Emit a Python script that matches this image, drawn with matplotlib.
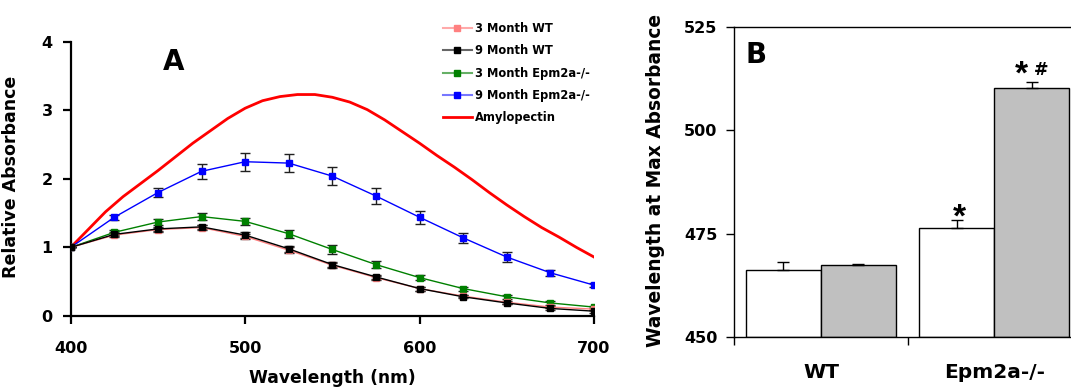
import numpy as np
import matplotlib
matplotlib.use("Agg")
import matplotlib.pyplot as plt
from matplotlib.lines import Line2D

plt.rcParams["font.family"] = ["DejaVu Sans"]
plt.rcParams["font.weight"] = "bold"

# panel A data
wavelength = [400, 425, 450, 475, 500, 525, 550, 575, 600, 625, 650, 675, 700]
wt_3m = [1.00, 1.18, 1.26, 1.29, 1.16, 0.96, 0.74, 0.56, 0.40, 0.29, 0.20, 0.13, 0.10]
wt_3m_err = [0.0, 0.03, 0.03, 0.03, 0.04, 0.04, 0.04, 0.03, 0.03, 0.02, 0.02, 0.02, 0.02]
wt_9m = [1.00, 1.19, 1.27, 1.30, 1.18, 0.98, 0.75, 0.57, 0.40, 0.28, 0.19, 0.11, 0.07]
wt_9m_err = [0.0, 0.03, 0.03, 0.03, 0.04, 0.04, 0.04, 0.03, 0.03, 0.02, 0.02, 0.02, 0.02]
ko_3m = [1.00, 1.22, 1.37, 1.45, 1.38, 1.20, 0.97, 0.75, 0.56, 0.40, 0.28, 0.19, 0.13]
ko_3m_err = [0.0, 0.04, 0.04, 0.05, 0.05, 0.06, 0.06, 0.05, 0.04, 0.03, 0.03, 0.03, 0.02]
ko_9m = [1.00, 1.44, 1.80, 2.11, 2.25, 2.23, 2.04, 1.75, 1.44, 1.14, 0.86, 0.63, 0.45]
ko_9m_err = [0.0, 0.04, 0.065, 0.11, 0.13, 0.13, 0.13, 0.11, 0.095, 0.075, 0.07, 0.045, 0.03]

amylo_wl = [400, 410, 420, 430, 440, 450, 460, 470, 480, 490, 500, 510, 520, 530, 540,
            550, 560, 570, 580, 590, 600, 610, 620, 630, 640, 650, 660, 670, 680, 690, 700]
amylo = [1.00, 1.26, 1.52, 1.74, 1.93, 2.12, 2.32, 2.52, 2.70, 2.88, 3.03, 3.14, 3.20, 3.23, 3.23,
         3.19, 3.12, 3.01, 2.86, 2.69, 2.52, 2.34, 2.17, 1.99, 1.80, 1.62, 1.45, 1.29, 1.15, 1.00, 0.86]

# panel B data
groups = ["WT", "Epm2a-/-"]
max_3m = [466.1, 476.3]
max_3m_err = [1.9, 1.9]
max_9m = [467.3, 510.3]
max_9m_err = [0.2, 1.4]

fig = plt.figure(figsize=(10.71, 3.89), dpi=100)

# ---- panel A ----
ax = fig.add_axes([0.066, 0.1877, 0.4886, 0.705])
ax.plot(amylo_wl, amylo, color="#ff0000", lw=2, zorder=2)
series = [
    (ko_9m, ko_9m_err, "#0000ff"),
    (ko_3m, ko_3m_err, "#008000"),
    (wt_3m, wt_3m_err, "#ff8080"),
    (wt_9m, wt_9m_err, "#000000"),
]
for vals, err, col in series:
    ax.errorbar(wavelength, vals, yerr=err, color=col, lw=1, marker="s", ms=5,
                mec=col, mfc=col, ecolor="#202020", elinewidth=1, capsize=3.5, zorder=3)

ax.set_xlim(400, 700)
ax.set_ylim(0, 4)
ax.set_xticks([400, 500, 600, 700])
ax.set_yticks([0, 1, 2, 3, 4])
for s in ["top", "right"]:
    ax.spines[s].set_visible(False)
for s in ["left", "bottom"]:
    ax.spines[s].set_linewidth(1.6)
ax.tick_params(axis="x", direction="out", length=6, width=1.6, pad=12, labelsize=11.5)
ax.tick_params(axis="y", direction="out", length=6, width=1.6, pad=7, labelsize=11.5)
ax.set_xlabel("Wavelength (nm)", fontsize=12.3, fontweight="bold")
ax.xaxis.set_label_coords(0.5, -0.195)
ax.set_ylabel("Relative Absorbance", fontsize=12.5, fontweight="bold")
ax.yaxis.set_label_coords(-0.097, 0.507)
ax.text(0.197, 0.897, "A", transform=ax.transAxes, fontsize=20, fontweight="bold",
        ha="center", va="baseline")

legend_labels = ["3 Month WT", "9 Month WT", "3 Month Epm2a-/-", "9 Month Epm2a-/-", "Amylopectin"]
legend_lines = ["#ffaaaa", "#666666", "#66b066", "#7777ff", "#ff0000"]
legend_marks = ["#ff8080", "#000000", "#008000", "#0000ff", None]
leg_handles = []
for lc, mc in zip(legend_lines, legend_marks):
    if mc is None:
        leg_handles.append(Line2D([], [], color=lc, lw=2))
    else:
        leg_handles.append(Line2D([], [], color=lc, lw=1.5, marker="s", ms=4.5, mfc=mc, mec=mc))
fig.legend(leg_handles, legend_labels, loc="upper left",
           bbox_to_anchor=(0.4136, 0.943), frameon=False, fontsize=8.3,
           handlelength=2.5, handletextpad=0.25, labelspacing=0.8, borderpad=0,
           borderaxespad=0)

# ---- panel B ----
bx = fig.add_axes([0.6856, 0.1345, 0.3237, 0.7953])
x = np.arange(len(groups))
w = 0.4325
bx.bar(x - w / 2, np.array(max_3m) - 450, w, bottom=450, color="white", edgecolor="black",
       lw=1, zorder=2)
bx.bar(x + w / 2, np.array(max_9m) - 450, w, bottom=450, color="#c0c0c0", edgecolor="black",
       lw=1, zorder=2)
bx.errorbar(x - w / 2, max_3m, yerr=[np.zeros(2), max_3m_err], fmt="none", ecolor="black",
            elinewidth=1, capsize=4, zorder=3)
bx.errorbar(x + w / 2, max_9m, yerr=[np.zeros(2), max_9m_err], fmt="none", ecolor="black",
            elinewidth=1, capsize=4, zorder=3)
bx.set_xlim(-0.5, 1.5)
bx.set_ylim(450, 525)
bx.set_yticks([450, 475, 500, 525])
bx.set_xticks(x)
bx.set_xticklabels(groups)
bx.set_xticks([-0.5, 0.5, 1.5], minor=True)
bx.tick_params(axis="x", which="major", length=0, pad=19, labelsize=14.5)
bx.tick_params(axis="x", which="minor", length=6, width=1, direction="out")
bx.tick_params(axis="y", direction="out", length=6, width=1, pad=6, labelsize=11.5)
for s in bx.spines.values():
    s.set_linewidth(1)
bx.set_ylabel("Wavelength at Max Absorbance", fontsize=13.4, fontweight="bold")
bx.yaxis.set_label_coords(-0.199, 0.506)
bx.text(0.064, 0.8846, "B", transform=bx.transAxes, fontsize=20, fontweight="bold",
        ha="center", va="baseline")
# significance marks
star_font = ["Liberation Sans", "DejaVu Sans"]
bx.text(x[1] - w / 2 + 0.0125, 476.7, "*", fontsize=24, fontweight="bold", ha="center",
        va="baseline", family=star_font)
bx.text(x[1] + w / 2 - 0.057, 511.4, "*", fontsize=24, fontweight="bold", ha="center",
        va="baseline", family=star_font)
bx.text(x[1] + w / 2 + 0.055, 513.55, "#", fontsize=12.5, fontweight="bold", ha="center",
        va="baseline")

fig.savefig("out.png", dpi=100)
